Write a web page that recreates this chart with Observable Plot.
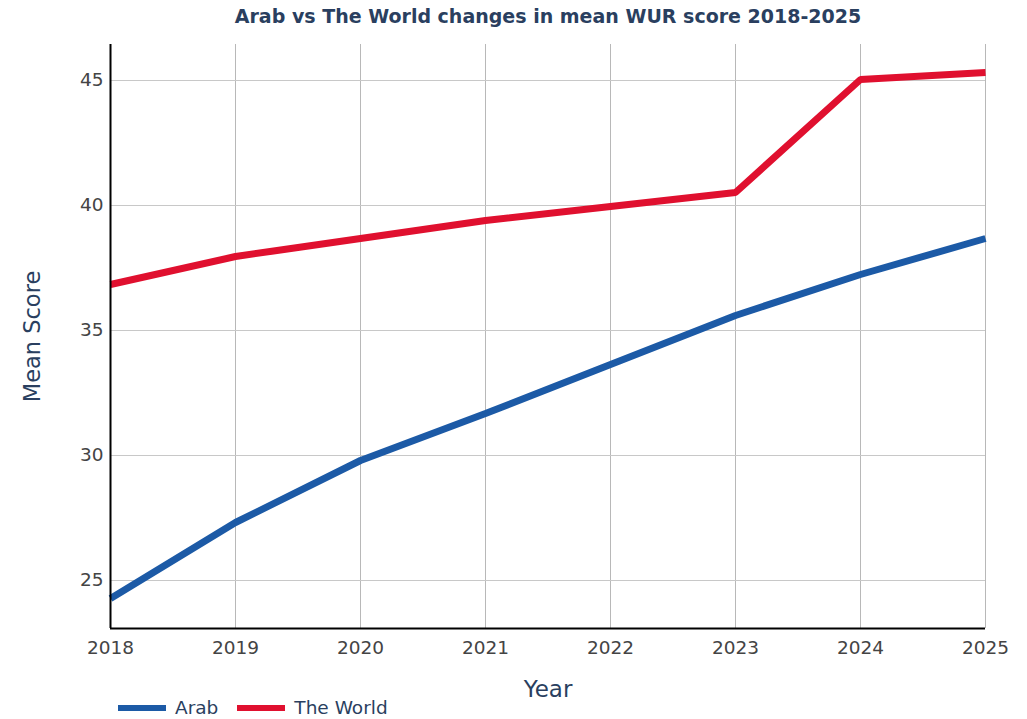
<!DOCTYPE html>
<html><head><meta charset="utf-8">
<script src="https://cdn.jsdelivr.net/npm/d3@7"></script>
<script src="https://cdn.jsdelivr.net/npm/@observablehq/plot@0.6"></script>
<style>
body{margin:0;background:#fff;font-family:"DejaVu Sans",Verdana,sans-serif;}
#wrap{position:relative;width:1027px;height:719px;overflow:hidden;}
#title{position:absolute;top:5px;left:0;width:1096px;text-align:center;font-weight:bold;font-size:19px;color:#2a3f5f;letter-spacing:0px;}
#legend{position:absolute;top:697px;left:118px;display:flex;align-items:center;font-size:18.5px;color:#2a3f5f;}
#legend .sw{display:inline-block;width:48px;height:6px;margin-right:9px;}
#legend .it{display:flex;align-items:center;margin-right:19px;}
svg{position:absolute;top:0;left:0;}
</style></head>
<body><div id="wrap"><div id="title">Arab vs The World changes in mean WUR score 2018-2025</div><div id="chart"></div><div id="legend"></div></div>
<script>
const years = [2018, 2019, 2020, 2021, 2022, 2023, 2024, 2025];
const arab = [24.28, 27.32, 29.8, 31.68, 33.64, 35.6, 37.24, 38.68];
const world = [36.84, 37.96, 38.68, 39.4, 39.96, 40.52, 45.04, 45.32];
const seriesNames = ["Arab", "The World"];
const seriesColors = ["#1c5aa6", "#e0102f"];
const yTicks = [25, 30, 35, 40, 45];

const data = [];
years.forEach((y, i) => data.push({year: y, value: arab[i], series: seriesNames[0]}));
years.forEach((y, i) => data.push({year: y, value: world[i], series: seriesNames[1]}));

const chart = Plot.plot({
  width: 1027, height: 719,
  marginLeft: 110, marginRight: 42, marginTop: 44, marginBottom: 91,
  style: {fontFamily: "'DejaVu Sans', Verdana, sans-serif", fontSize: "18px", color: "#444", background: "transparent", overflow: "visible"},
  x: {domain: [2018, 2025], ticks: years, tickFormat: d => String(d), tickSize: 0, tickPadding: 10, label: null},
  y: {domain: [23.08, 46.44], ticks: yTicks, tickSize: 0, tickPadding: 9, label: null},
  color: {domain: seriesNames, range: seriesColors},
  marks: [
    Plot.gridX(years, {stroke: "#b8b8b8", strokeOpacity: 1, strokeWidth: 1}),
    Plot.gridY(yTicks, {stroke: "#c8c8c8", strokeOpacity: 1, strokeWidth: 1}),
    Plot.axisX({ticks: years, tickFormat: d => String(d), tickSize: 0, tickPadding: 12, fontSize: 18.5, fill: "#444", label: null}),
    Plot.axisY({ticks: yTicks, tickSize: 0, tickPadding: 7, fontSize: 18.5, fill: "#444", label: null}),
    Plot.line(data, {x: "year", y: "value", z: "series", stroke: "series", strokeWidth: 7, strokeLinejoin: "miter", strokeLinecap: "butt"}),
    Plot.ruleX([2018], {stroke: "#000", strokeWidth: 2}),
    Plot.ruleY([23.08], {stroke: "#000", strokeWidth: 2}),
    Plot.text(["Year"], {frameAnchor: "bottom", dy: 61, fontSize: 23, fill: "#2a3f5f", textAnchor: "middle", lineAnchor: "middle"}),
    Plot.text(["Mean Score"], {frameAnchor: "left", dx: -78, rotate: -90, fontSize: 22.5, fill: "#2a3f5f", textAnchor: "middle", lineAnchor: "middle"})
  ]
});
document.getElementById("chart").appendChild(chart);

const leg = document.getElementById("legend");
seriesNames.forEach((n, i) => {
  const it = document.createElement("div"); it.className = "it";
  const sw = document.createElement("span"); sw.className = "sw"; sw.style.background = seriesColors[i];
  const t = document.createElement("span"); t.textContent = n;
  it.appendChild(sw); it.appendChild(t); leg.appendChild(it);
});
</script></body></html>
